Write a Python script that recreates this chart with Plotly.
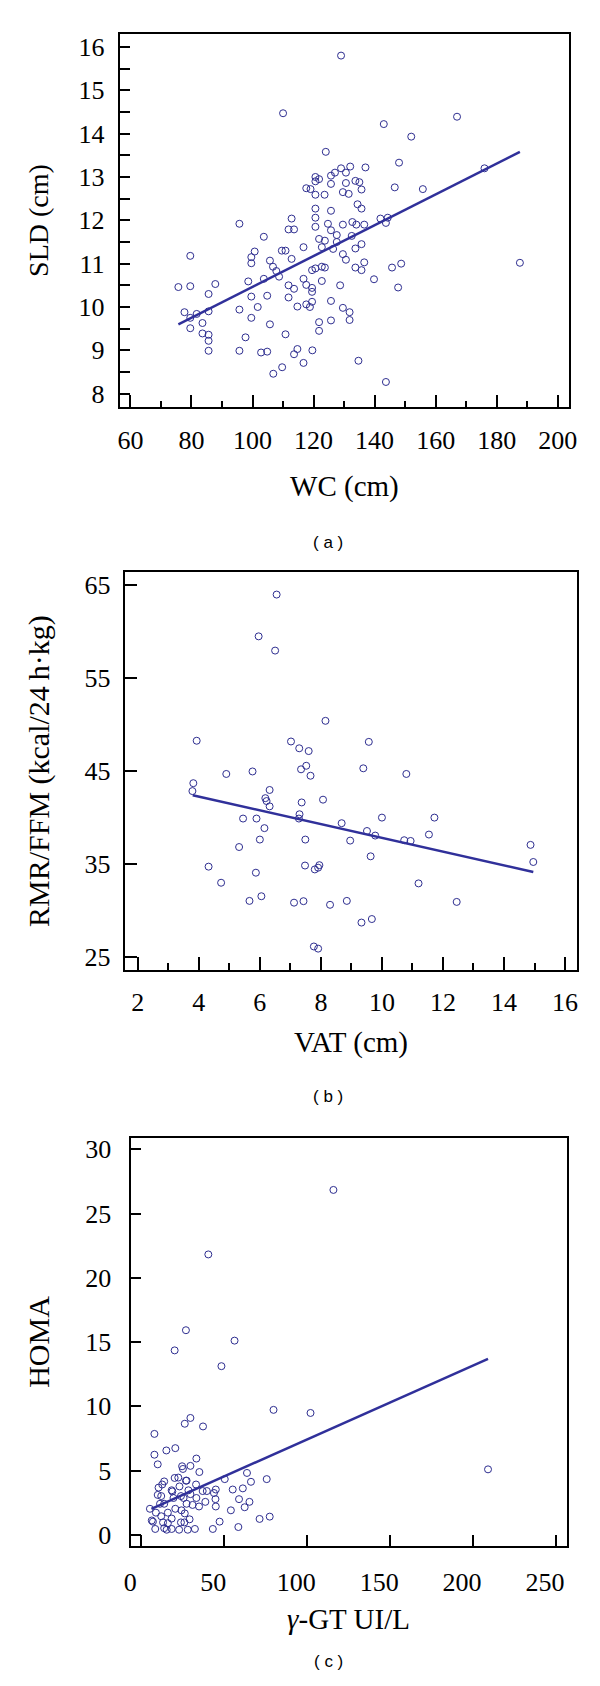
import plotly.graph_objects as go

# panel (a): waist circumference vs SLD
wc = [129, 110, 143, 167, 152, 124, 148, 176, 137, 132, 129, 127, 125.7, 130.6, 120.6, 121.8, 120.6, 125.7, 130.6, 133.7,
      135, 146.6, 155.8, 117.6, 119, 135.7, 129.6, 131.5, 120.6, 123.6, 134.4, 135.7, 120.6, 125.7, 120.6, 141.9, 144.3, 143.7,
      112.8, 95.7, 124.7, 129.6, 132.7, 134, 136.6, 120.6, 111.8, 113.6, 125.7, 103.7, 127.6, 132.5, 121.8, 123.7, 127.6, 135.7,
      133.7, 116.7, 122.7, 126.4, 109.6, 110.8, 100.7, 129.6, 79.6, 99.6, 112.8, 130.6, 105.7, 99.6, 136.6, 187.6, 148.7, 106.7,
      122.7, 123.7, 133.7, 145.7, 107.8, 119.5, 120.6, 135.7, 108.7, 103.7, 116.7, 139.8, 98.6, 122.7, 87.8, 117.6, 111.8, 128.7,
      75.7, 79.6, 147.7, 119.5, 113.6, 119.5, 85.6, 99.6, 104.8, 111.8, 125.7, 119.5, 117.6, 114.7, 118.8, 101.7, 129.6, 95.7,
      85.6, 77.7, 81.7, 131.8, 79.6, 99.6, 131.8, 125.7, 83.6, 121.8, 105.7, 79.6, 121.8, 83.6, 110.8, 85.6, 97.7, 85.6, 95.7,
      85.6, 114.7, 119.6, 102.8, 104.8, 113.6, 134.7, 116.7, 109.7, 106.8, 143.7]
sld = [15.8, 14.47, 14.22, 14.39, 13.93, 13.58, 13.33, 13.2, 13.22, 13.24, 13.2, 13.1, 13.03, 13.1, 13.0, 12.95, 12.9, 12.84,
       12.86, 12.91, 12.88, 12.76, 12.72, 12.74, 12.72, 12.71, 12.65, 12.61, 12.59, 12.59, 12.37, 12.27, 12.27, 12.22, 12.06,
       12.04, 12.06, 11.94, 12.04, 11.92, 11.92, 11.9, 11.96, 11.9, 11.9, 11.85, 11.79, 11.79, 11.77, 11.62, 11.66, 11.64, 11.57,
       11.53, 11.5, 11.45, 11.35, 11.38, 11.38, 11.34, 11.3, 11.3, 11.28, 11.22, 11.18, 11.15, 11.11, 11.09, 11.07, 11.01, 11.03,
       11.02, 11.0, 10.93, 10.93, 10.91, 10.91, 10.91, 10.83, 10.85, 10.89, 10.85, 10.7, 10.65, 10.65, 10.64, 10.59, 10.6, 10.53,
       10.51, 10.5, 10.5, 10.46, 10.48, 10.45, 10.44, 10.42, 10.35, 10.3, 10.24, 10.26, 10.22, 10.14, 10.12, 10.06, 10.01, 10.0,
       10.0, 9.98, 9.94, 9.9, 9.88, 9.84, 9.88, 9.75, 9.75, 9.7, 9.69, 9.63, 9.65, 9.6, 9.51, 9.45, 9.39, 9.37, 9.36, 9.3, 9.22,
       8.99, 8.99, 9.03, 9.0, 8.95, 8.97, 8.91, 8.76, 8.71, 8.61, 8.46, 8.27]
wc_fit = [75.7, 187.6]
sld_fit = [9.6, 13.58]

# panel (b): VAT vs RMR/FFM
vat = [6.55, 5.96, 6.5, 8.15, 3.93, 7.02, 9.57, 7.29, 7.6, 9.39, 7.35, 7.52, 5.76, 4.9, 7.66, 10.8, 3.82, 3.79, 6.32, 6.18,
       6.22, 6.32, 7.37, 8.07, 7.3, 7.28, 5.45, 5.89, 10.0, 11.72, 8.68, 6.15, 9.51, 9.78, 11.54, 6.0, 7.49, 8.96, 10.73, 10.94,
       5.32, 14.87, 9.63, 14.96, 4.32, 7.48, 7.95, 7.91, 7.8, 5.87, 4.73, 11.2, 6.05, 5.66, 7.12, 7.43, 8.3, 8.85, 12.45, 9.67,
       9.33, 7.77, 7.91]
rmr_ffm = [63.97, 59.48, 57.95, 50.4, 48.26, 48.18, 48.14, 47.45, 47.15, 45.3, 45.19, 45.57, 44.96, 44.69, 44.5, 44.69, 43.7,
           42.85, 42.97, 42.09, 41.78, 41.21, 41.63, 41.93, 40.36, 39.9, 39.9, 39.9, 40.0, 40.0, 39.4, 38.87, 38.56, 38.07, 38.18,
           37.64, 37.64, 37.53, 37.57, 37.49, 36.84, 37.07, 35.84, 35.23, 34.73, 34.85, 34.89, 34.62, 34.43, 34.08, 33.0, 32.93,
           31.55, 31.05, 30.86, 31.02, 30.63, 31.05, 30.94, 29.1, 28.72, 26.15, 25.92]
vat_fit = [3.8, 14.96]
rmr_fit = [42.4, 34.16]

# panel (c): gamma-GT vs HOMA
ggt = [115.8, 40.4, 26.9, 56.2, 20.1, 48.3, 79.7, 102.0, 29.6, 26.2, 37.2, 7.9, 15.1, 20.5, 7.9, 33.2, 9.9, 24.6, 29.6, 209.0,
       35.0, 63.7, 50.3, 75.6, 20.1, 13.8, 27.3, 66.1, 33.0, 23.0, 55.1, 61.2, 44.9, 18.3, 37.0, 43.8, 9.9, 29.6, 58.9, 65.2,
       38.6, 27.3, 34.8, 44.9, 62.3, 13.8, 54.0, 5.2, 24.2, 16.0, 26.2, 71.3, 77.4, 47.2, 7.0, 18.3, 26.0, 58.5, 43.1, 8.4, 13.8,
       22.8, 28.0, 16.0, 12.0, 10.4, 12.6, 22.3, 18.7, 25.5, 30.9, 6.3, 20.5, 15.3, 26.9, 28.4, 33.2, 11.3, 8.8, 23.9, 44.7,
       39.5, 25.1, 13.1, 12.0, 19.4, 29.1, 32.3, 18.3, 23.9]
homa = [26.84, 21.82, 15.92, 15.11, 14.35, 13.12, 9.72, 9.48, 9.09, 8.64, 8.43, 7.85, 6.56, 6.74, 6.23, 5.93, 5.48, 5.33, 5.36,
        5.09, 4.88, 4.81, 4.33, 4.33, 4.42, 4.15, 4.21, 4.12, 3.91, 3.76, 3.52, 3.61, 3.52, 3.46, 3.4, 3.25, 3.1, 3.16, 2.77,
        2.56, 2.56, 2.41, 2.2, 2.2, 2.14, 2.41, 1.9, 2.02, 1.9, 1.72, 1.66, 1.23, 1.41, 1.02, 1.02, 1.26, 0.96, 0.6, 0.45, 0.45,
        0.51, 0.39, 0.39, 0.9, 1.44, 3.67, 3.91, 4.45, 3.37, 2.86, 2.32, 1.11, 2.02, 0.39, 4.21, 3.46, 2.86, 2.41, 1.72, 3.01,
        2.77, 3.4, 5.12, 0.96, 3.01, 2.86, 1.2, 0.45, 0.45, 0.96]
ggt_fit = [6.1, 209.0]
homa_fit = [2.02, 13.69]

W, H = 600, 1686
navy = '#2e2e90'
line_col = '#30309a'
serif = 'Liberation Serif'

def xdom(l, r):
    return [l / W, r / W]

def ydom(top, bottom):
    return [1 - bottom / H, 1 - top / H]

fig = go.Figure()

panels = [(wc, sld, wc_fit, sld_fit, 'x', 'y'),
          (vat, rmr_ffm, vat_fit, rmr_fit, 'x2', 'y2'),
          (ggt, homa, ggt_fit, homa_fit, 'x3', 'y3')]
for xs, ys, fx, fy, xa, ya in panels:
    fig.add_scatter(x=xs, y=ys, mode='markers', xaxis=xa, yaxis=ya,
                    marker=dict(symbol='circle-open', size=7, color=navy, line=dict(width=1, color=navy)))
    fig.add_scatter(x=fx, y=fy, mode='lines', xaxis=xa, yaxis=ya,
                    line=dict(color=line_col, width=2.5))

axis_common = dict(showline=True, linecolor='black', linewidth=2, mirror=True, ticks='inside',
                   tickwidth=2, tickcolor='black', showgrid=False, zeroline=False,
                   tickfont=dict(family=serif, size=26, color='black'))

def title(text, standoff, size=29):
    return dict(text=text, font=dict(family=serif, size=size, color='black'), standoff=standoff)

fig.update_layout(
    width=W, height=H, showlegend=False,
    plot_bgcolor='white', paper_bgcolor='white',
    margin=dict(l=0, r=0, t=0, b=0),
    # (a)
    xaxis=dict(axis_common, domain=xdom(108.3, 568.3), range=[56.5, 203.7], anchor='y',
               tick0=0, dtick=20, ticklen=12, ticklabelstandoff=9,
               minor=dict(ticks='inside', ticklen=6, tickwidth=2, tickcolor='black', dtick=10, tick0=0),
               title=title('WC (cm)', 21)),
    yaxis=dict(axis_common, domain=ydom(24, 398.3), range=[7.69, 16.30], anchor='x',
               tick0=0, dtick=1, ticklen=10, ticklabelstandoff=8,
               minor=dict(ticks='inside', ticklen=10, tickwidth=2, tickcolor='black', dtick=0.5, tick0=0),
               title=title('SLD (cm)', 22, 28)),
    # (b)
    xaxis2=dict(axis_common, domain=xdom(113.3, 576.7), range=[1.57, 16.4], anchor='y2',
                tick0=0, dtick=2, ticklen=13, ticklabelstandoff=8,
                minor=dict(ticks='inside', ticklen=7, tickwidth=2, tickcolor='black', dtick=1, tick0=0),
                title=title('VAT (cm)', 16)),
    yaxis2=dict(axis_common, domain=ydom(564, 962.7), range=[23.64, 66.36], anchor='x2',
                tick0=25, dtick=10, ticklen=12, ticklabelstandoff=7,
                title=title('RMR/FFM (kcal/24\u2009h\u00b7kg)', 26, 30)),
    # (c)
    xaxis3=dict(axis_common, domain=xdom(119.3, 565.7), range=[-6.5, 256.3], anchor='y3',
                tick0=0, dtick=50, ticklen=11, ticklabelshift=-11, ticklabelstandoff=11,
                title=title('<i>\u03b3</i>-GT UI/L', 13)),
    yaxis3=dict(axis_common, domain=ydom(1131, 1541), range=[-0.91, 30.91], anchor='x3',
                tick0=0, dtick=5, ticklen=10, ticklabelstandoff=12,
                title=title('HOMA', 27, 30)),
)

for lab, ypx in [('( a )', 523), ('( b )', 1090), ('( c )', 1668)]:
    fig.add_annotation(text=lab, xref='paper', yref='paper', x=322 / W, y=1 - ypx / H,
                       showarrow=False, font=dict(family='Liberation Sans', size=17, color='black'))

fig.write_html("out.html")
